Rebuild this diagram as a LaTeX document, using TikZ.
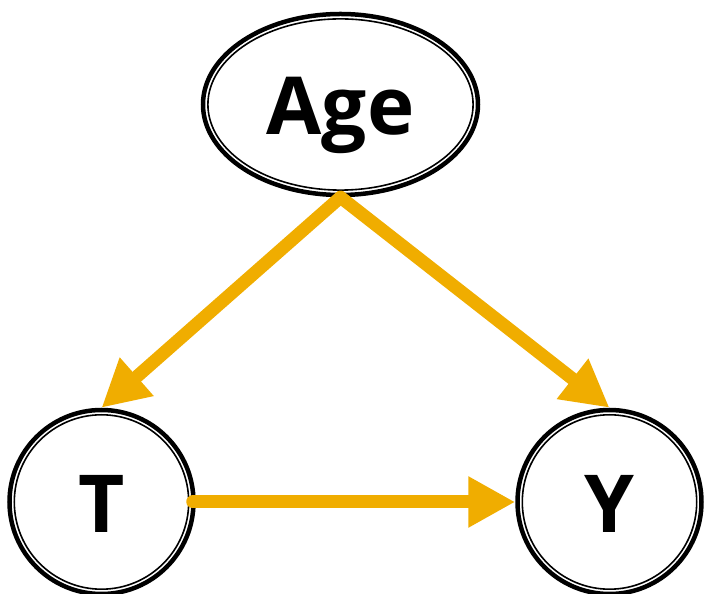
\documentclass[tikz,border=0pt]{standalone}
\usepackage{fontspec}
\setmainfont{Open Sans}
\usetikzlibrary{shapes.geometric,arrows.meta}
\definecolor{arrowor}{HTML}{F0AD00}
\begin{document}
\begin{tikzpicture}[x=1pt,y=1pt,
  var/.style={draw=black, line width=4.5pt, fill=white, inner sep=0pt,
    text height=61pt, text depth=0pt,
    font=\fontsize{80}{96}\selectfont\bfseries},
  ring/.style={line width=1.6pt},
  causal/.style={draw=arrowor, line width=13pt, line cap=round,
    -{Triangle[length=47pt,width=48pt]}}]
\useasboundingbox (0,0) rectangle (705,594);
\node[var, ellipse, minimum width=275pt, minimum height=181pt] (age) at (340.5,489.5) {Age};
\node[var, circle, minimum size=184pt] (t) at (101.5,92) {T};
\node[var, circle, minimum size=184pt] (y) at (609.5,92) {Y};
\draw[ring] (age.center) ellipse [x radius=132.6pt, y radius=85.6pt];
\draw[ring] (t.center) circle [radius=87.2pt];
\draw[ring] (y.center) circle [radius=87.2pt];
\draw[causal] (age.south) -- (t.north);
\draw[causal] (age.south) -- (y.north);
\draw[causal] ([xshift=-3pt]t.east) -- (y.west);
\end{tikzpicture}
\end{document}
